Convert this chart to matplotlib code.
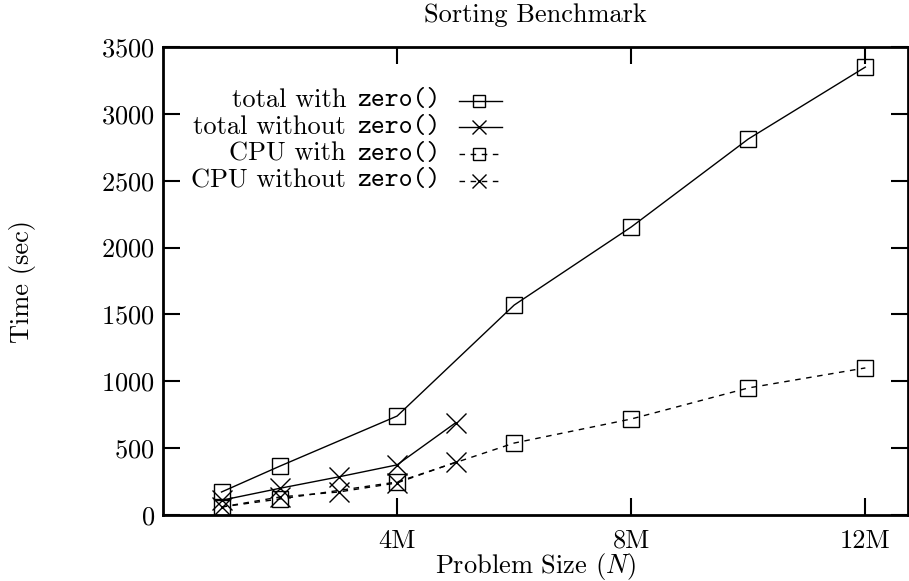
import matplotlib
matplotlib.use("Agg")
import matplotlib.pyplot as plt

plt.rcParams['font.family'] = 'cmr10'
plt.rcParams['mathtext.fontset'] = 'cm'
plt.rcParams['axes.formatter.use_mathtext'] = True

# 数据 (N 单位: 百万)
n_total_with = [1, 2, 4, 6, 8, 10, 12]
total_with = [172, 366, 740, 1570, 2154, 2812, 3350]

n_total_without = [1, 2, 3, 4, 5]
total_without = [110, 200, 285, 375, 690]

n_cpu_with = [1, 2, 4, 6, 8, 10, 12]
cpu_with = [60, 120, 247, 538, 718, 950, 1100]

n_cpu_without = [1, 2, 3, 4, 5]
cpu_without = [60, 135, 172, 240, 395]

labels = ['total with', 'total without', 'CPU with', 'CPU without']
func_name = 'zero()'

xticks = [4, 8, 12]
xtick_labels = ['4M', '8M', '12M']
yticks = [0, 500, 1000, 1500, 2000, 2500, 3000, 3500]

fs = 19

fig = plt.figure(figsize=(9.09, 5.81), dpi=100)
ax = fig.add_axes([0.1793, 0.1136, 0.8197, 0.8055])

styles = [
    dict(ls='-', marker='s', ms=12, mfc='none'),
    dict(ls='-', marker='x', ms=14),
    dict(ls=(0, (4, 4)), marker='s', ms=12, mfc='none'),
    dict(ls=(0, (4, 4)), marker='x', ms=14),
]
series = [(n_total_with, total_with), (n_total_without, total_without),
          (n_cpu_with, cpu_with), (n_cpu_without, cpu_without)]

for (xs, ys), st in zip(series, styles):
    ax.plot(xs, ys, color='k', lw=1, mew=1, **st)

ax.set_xlim(0, 12.73)
ax.set_ylim(0, 3500)
ax.set_xticks(xticks)
ax.set_xticklabels(xtick_labels)
ax.set_yticks(yticks)
ax.tick_params(direction='in', length=12, width=1.5, top=True, right=True, labelsize=fs)
ax.tick_params(axis='x', pad=10)
ax.tick_params(axis='y', pad=6)
for s in ax.spines.values():
    s.set_linewidth(2)

ax.set_xlabel(r'Problem Size ($N$)', fontsize=fs, labelpad=-1)
ax.set_ylabel('Time (sec)', fontsize=fs)
ax.yaxis.set_label_coords(-0.17, 0.5)
ax.set_title('Sorting Benchmark', fontsize=fs, pad=18)

# 图例 (手动: 文字右对齐, 标记在右边)
leg_y0, leg_dy = 0.885, 0.057
text_right = 0.372
key_x = [0.397, 0.424, 0.455]
for i, (lab, st) in enumerate(zip(labels, styles)):
    y = leg_y0 - i * leg_dy
    t2 = ax.text(text_right, y, func_name, fontfamily='cmtt10', fontsize=fs,
                 ha='right', va='center', transform=ax.transAxes)
    ax.annotate(lab, xy=(0, 0), xycoords=t2, xytext=(-11, 0), textcoords='offset pixels',
                ha='right', va='bottom', fontsize=fs)
    kst = dict(st)
    kst['ms'] = st['ms'] * 0.72
    ax.plot(key_x, [y] * 3, color='k', lw=1, mew=1, markevery=[1],
            transform=ax.transAxes, clip_on=False, **kst)

fig.savefig('out.png', dpi=100)
